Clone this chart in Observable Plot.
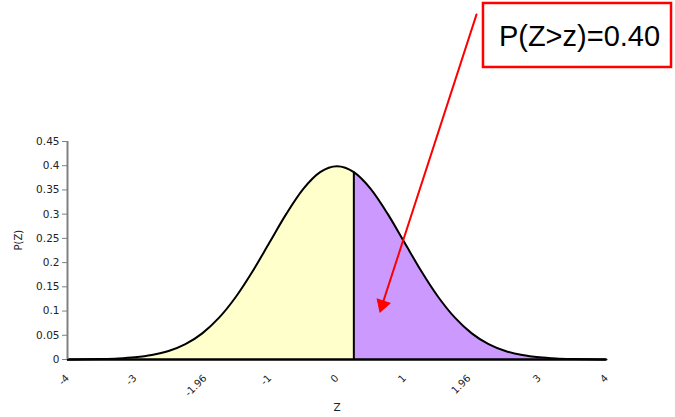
<!DOCTYPE html>
<html>
<head>
<meta charset="utf-8">
<script src="https://cdn.jsdelivr.net/npm/d3@7"></script>
<script src="https://cdn.jsdelivr.net/npm/@observablehq/plot@0.6"></script>
<style>
  html, body { margin: 0; padding: 0; background: #fff; }
  #chart { width: 675px; height: 417px; }
</style>
</head>
<body>
<div id="chart"></div>
<script>
// Standard normal density read at 0.25 steps
const zValues = [-4, -3.75, -3.5, -3.25, -3, -2.75, -2.5, -2.25, -2, -1.75, -1.5, -1.25, -1, -0.75, -0.5, -0.25, 0,
                 0.25, 0.5, 0.75, 1, 1.25, 1.5, 1.75, 2, 2.25, 2.5, 2.75, 3, 3.25, 3.5, 3.75, 4];
const pValues = [0.0001, 0.0004, 0.0009, 0.0020, 0.0044, 0.0091, 0.0175, 0.0317, 0.0540, 0.0863, 0.1295, 0.1826, 0.2420, 0.3011, 0.3521, 0.3867, 0.3989,
                 0.3867, 0.3521, 0.3011, 0.2420, 0.1826, 0.1295, 0.0863, 0.0540, 0.0317, 0.0175, 0.0091, 0.0044, 0.0020, 0.0009, 0.0004, 0.0001];
const cutZ = 0.25;
const cutP = 0.3867;
const xTicks = [-4, -3, -1.96, -1, 0, 1, 1.96, 3, 4];
const yTicks = [0, 0.05, 0.1, 0.15, 0.2, 0.25, 0.3, 0.35, 0.4, 0.45];
const annotationText = ["P(Z>z)=0.40"];
const arrowFrom = [2.07, 0.712];
const arrowTo = [0.66, 0.108];
const arrowHead = [0.674, 0.113];
const boxX = [2.174, 4.965];
const boxY = [0.6028, 0.7349];
const textPos = [3.599, 0.6667];

const data = zValues.map((z, i) => ({z, p: pValues[i]}));
const left = data.filter(d => d.z <= cutZ);
const right = data.filter(d => d.z >= cutZ);

const font = "DejaVu Sans, Verdana, sans-serif";

const chart = Plot.plot({
  width: 675,
  height: 417,
  marginLeft: 67,
  marginRight: 69,
  marginTop: 141,
  marginBottom: 58,
  style: {fontFamily: font, fontSize: "10px", color: "#222", background: "#fff", overflow: "visible"},
  x: {domain: [-4, 4]},
  y: {domain: [0, 0.45]},
  marks: [
    Plot.areaY(left, {x: "z", y: "p", fill: "#FFFFCC", curve: "monotone-x"}),
    Plot.areaY(right, {x: "z", y: "p", fill: "#CC99FF", curve: "monotone-x"}),
    Plot.line(data, {x: "z", y: "p", stroke: "#000", strokeWidth: 2, curve: "monotone-x"}),
    Plot.ruleX([cutZ], {y1: 0, y2: cutP, stroke: "#000", strokeWidth: 2}),
    Plot.ruleY([0], {stroke: "#000", strokeWidth: 2.5}),
    Plot.ruleX([-4], {stroke: "#808080", strokeWidth: 2}),
    Plot.axisY({ticks: yTicks, tickSize: 5, tickPadding: 3, stroke: "#808080", tickFormat: d => String(d), fontSize: 10.5, label: null}),
    Plot.axisX({ticks: xTicks, tickSize: 0, tickPadding: 17, tickRotate: -45, tickFormat: d => String(d), fontSize: 10, label: null}),
    Plot.text(["Z"], {frameAnchor: "bottom", dy: 51, fontSize: 10.5, fill: "#222"}),
    Plot.text(["P(Z)"], {frameAnchor: "left", dx: -49, rotate: -90, fontSize: 10, fill: "#222"}),
    Plot.arrow([0], {x1: () => arrowFrom[0], y1: () => arrowFrom[1], x2: () => arrowTo[0], y2: () => arrowTo[1], stroke: "#FF0000", strokeWidth: 2, headLength: 0}),
    Plot.dot([0], {x: () => arrowHead[0], y: () => arrowHead[1], symbol: "triangle", r: 5, fill: "#FF0000", stroke: "#FF0000", strokeWidth: 1, rotate: 198}),
    Plot.rect([0], {x1: () => boxX[0], x2: () => boxX[1], y1: () => boxY[0], y2: () => boxY[1], fill: "#fff", stroke: "#FF0000", strokeWidth: 2.5}),
    Plot.text(annotationText, {x: () => textPos[0], y: () => textPos[1], fontSize: 29, fontFamily: "Liberation Sans, Arial, sans-serif", fill: "#000"})
  ]
});
document.getElementById("chart").appendChild(chart);
</script>
</body>
</html>
